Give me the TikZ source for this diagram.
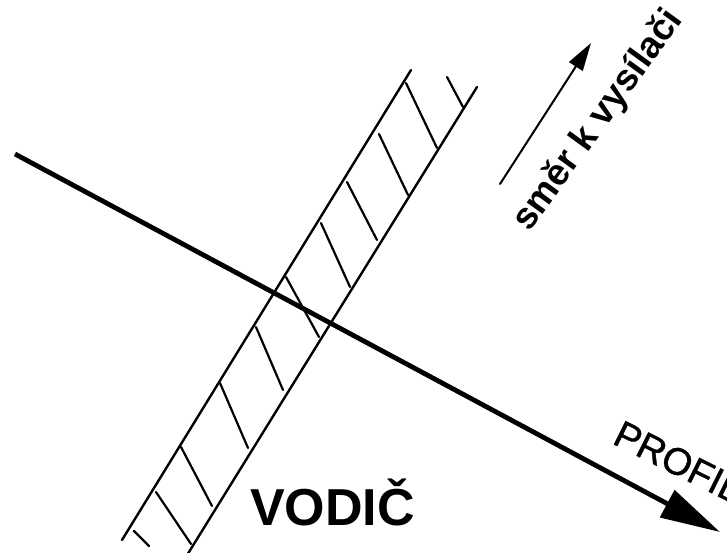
\documentclass[tikz,border=0pt]{standalone}
\usepackage{fontspec}
\setmainfont{Liberation Sans}
\newfontfamily\profilfont[FakeBold=1]{Liberation Sans}
\usepackage{tikz}
\usetikzlibrary{arrows.meta}
\tikzstyle{stripline} = [line width=2.4pt, line cap=round]
\tikzstyle{hatch} = [line width=2.2pt, line cap=round]
\tikzstyle{profil} = [line width=4.8pt, -{Triangle[length=60pt, width=30pt]}]
\tikzstyle{smer} = [line width=2pt, line cap=round, -{Triangle[length=28pt, width=16pt]}]
\tikzstyle{popis} = [inner sep=0pt, anchor=base west]

\begin{document}
\begin{tikzpicture}[x=1pt, y=-1pt]
    \clip (0,0) rectangle (727,552);

    % vodic strip
    \coordinate (leftTop) at (411,70);
    \coordinate (leftBot) at (122,540);
    \coordinate (rightTop) at (477,87);
    \coordinate (rightBot) at (184,560);
    \draw[stripline] (leftTop) -- (leftBot);
    \draw[stripline] (rightTop) -- (rightBot);

    % hatching
    \draw[hatch] (447,77) -- (463,107);
    \draw[hatch] (406,83) -- (437,148);
    \draw[hatch] (379,134) -- (408,195);
    \draw[hatch] (347,182) -- (377,240);
    \draw[hatch] (321,223) -- (350,287);
    \draw[hatch] (286,277) -- (319,337);
    \draw[hatch] (256,327) -- (283,390);
    \draw[hatch] (220,383) -- (248,448);
    \draw[hatch] (181,447) -- (212,506);
    \draw[hatch] (156,492) -- (191,544);
    \draw[hatch] (134,531) -- (149,546);

    % profile
    \coordinate (profStart) at (15,154);
    \coordinate (profEnd) at (720,532);
    \draw[profil] (profStart) -- (profEnd);

    % direction to transmitter
    \coordinate (smerStart) at (500,184);
    \coordinate (smerEnd) at (591,43);
    \draw[smer] (smerStart) -- (smerEnd);

    \node[popis, font=\fontsize{52}{60}\selectfont\bfseries] (vodic) at (250,525) {VODIČ};
    \node[popis, font=\fontsize{38}{44}\selectfont\profilfont, rotate=-26.5] (profilText) at (611,443) {PROFIL};
    \node[popis, font=\fontsize{37}{44}\selectfont\bfseries, rotate=54] (smerText) at (529,233) {směr k vysílači};
\end{tikzpicture}
\end{document}
